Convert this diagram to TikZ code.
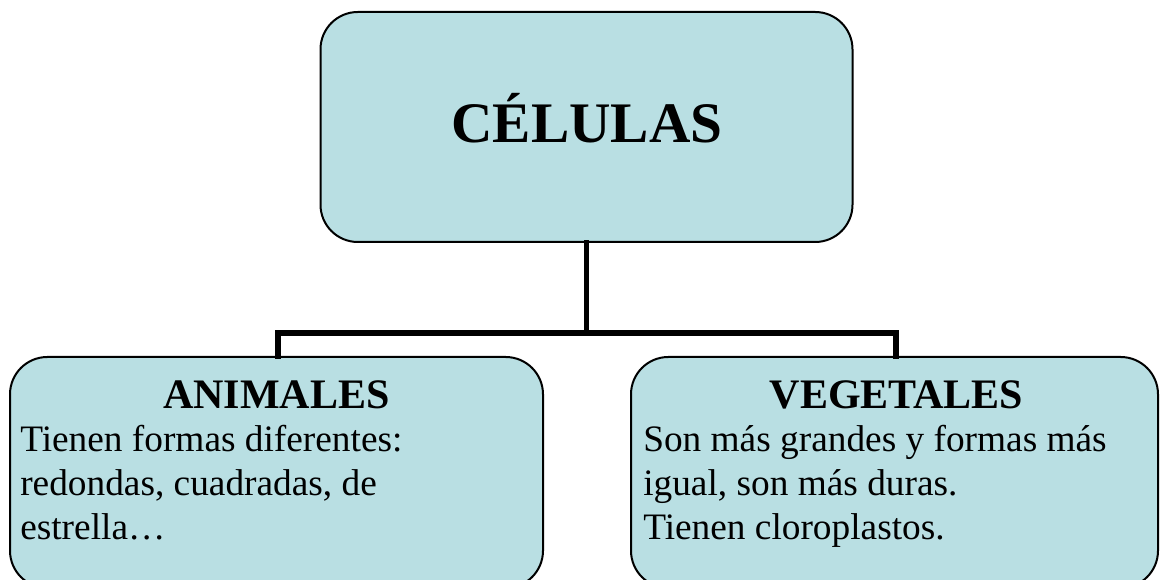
\documentclass[tikz,border=0pt]{standalone}
\usepackage{fontspec}
\setmainfont{Liberation Serif}
\usepackage{tikz}
\usetikzlibrary{positioning}

\definecolor{cajafondo}{RGB}{185,223,227}

\tikzset{
  caja/.style={draw=black, line width=1.5pt, fill=cajafondo,
    rounded corners=28pt, inner sep=0pt},
  rama/.style={line width=4pt, line cap=rect},
  titulo/.style={font=\fontsize{31.5}{36}\selectfont\bfseries, inner sep=0pt},
  texto/.style={font=\fontsize{28}{33}\selectfont, inner sep=0pt, align=left},
}

\begin{document}
\begin{tikzpicture}[x=0.75pt, y=-0.75pt]
  \useasboundingbox (0,0) rectangle (1161,580);

  % cajas
  \node[caja, minimum width=399pt, minimum height=172.5pt] (celulas) at (586.5,127) {};
  \node[caja, minimum width=399.75pt, minimum height=173.25pt] (animales) at (276.5,472.5) {};
  \node[caja, minimum width=395.25pt, minimum height=173.25pt] (vegetales) at (894.5,472.5) {};

  % ramas
  \coordinate (cruce) at (586.5,333);
  \coordinate (izq) at (278,333);
  \coordinate (der) at (896,333);
  \draw[rama] (celulas.south) -- (cruce);
  \draw[rama] (izq |- animales.north) -- (izq) -- (der) -- (der |- vegetales.north);

  % textos
  \node[font=\fontsize{43}{50}\selectfont\bfseries, inner sep=0pt, anchor=base]
    (tcel) at (587,143) {CÉLULAS};
  \node[titulo, anchor=base] (tani) at (276.5,409) {ANIMALES};
  \node[titulo, anchor=base] (tveg) at (896.5,409) {VEGETALES};
  \node[texto, anchor=base west] (bani) at (20,540)
    {Tienen formas diferentes:\\redondas, cuadradas, de\\estrella…};
  \node[texto, anchor=base west] (bveg) at (643,540)
    {Son más grandes y formas más\\igual, son más duras.\\Tienen cloroplastos.};
\end{tikzpicture}
\end{document}
